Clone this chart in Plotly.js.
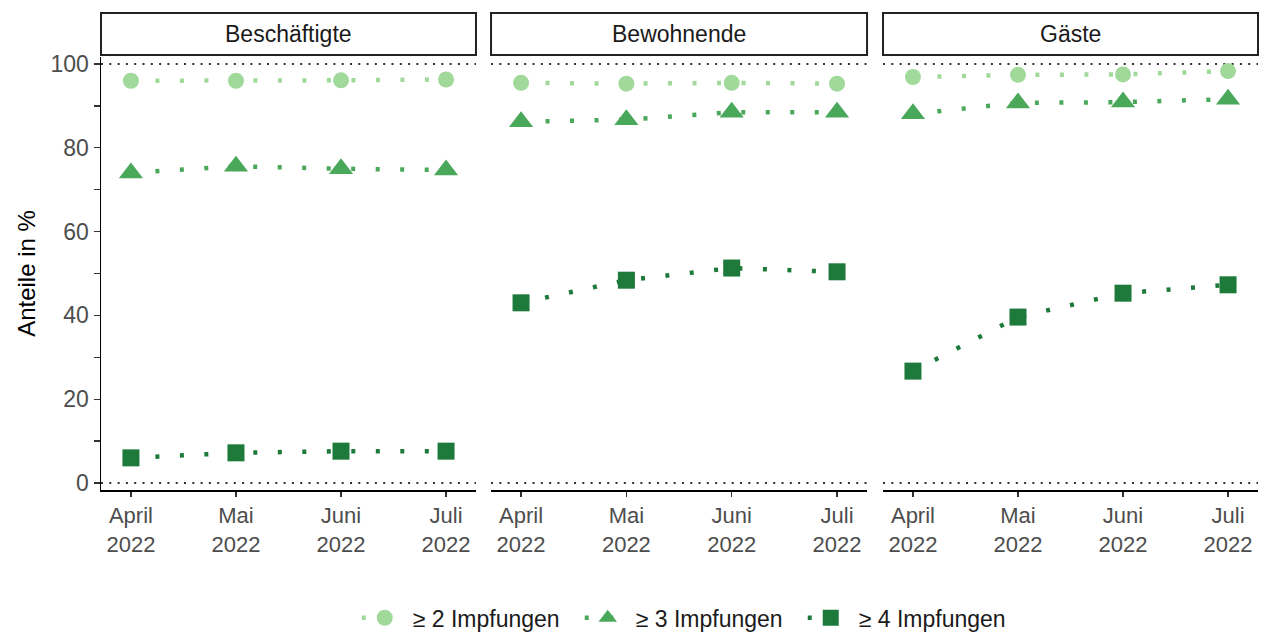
<!DOCTYPE html>
<html>
<head>
<meta charset="utf-8">
<script src="https://cdn.plot.ly/plotly-3.0.1.min.js"></script>
<style>html,body{margin:0;padding:0;background:#fff;}#chart{width:1273px;height:633px;}</style>
</head>
<body>
<div id="chart"></div>
<script>
// ---- data ----
const months = ["April<br>2022", "Mai<br>2022", "Juni<br>2022", "Juli<br>2022"];
const panels = ["Beschäftigte", "Bewohnende", "Gäste"];
const seriesNames = ["≥ 2 Impfungen", "≥ 3 Impfungen", "≥ 4 Impfungen"];

// Beschäftigte
const besch2 = [96.0, 96.0, 96.1, 96.3];
const besch3 = [74.0, 75.6, 75.0, 74.7];
const besch4 = [6.0, 7.2, 7.6, 7.6];
// Bewohnende
const bew2 = [95.5, 95.3, 95.5, 95.3];
const bew3 = [86.2, 86.7, 88.5, 88.5];
const bew4 = [43.0, 48.4, 51.3, 50.4];
// Gäste
const gae2 = [96.9, 97.4, 97.5, 98.3];
const gae3 = [88.1, 90.7, 90.9, 91.6];
const gae4 = [26.7, 39.6, 45.3, 47.3];

const refLines = [0, 100];

// ---- styles ----
const colors = ["#a1d99b", "#4aa85a", "#1d7a3a"];
const symbols = ["circle", "triangle-up", "square"];
const sizes = [16, 21, 17];

const panelData = [
  [besch2, besch3, besch4],
  [bew2, bew3, bew4],
  [gae2, gae3, gae4]
];

const traces = [];
panelData.forEach((pd, p) => {
  pd.forEach((vals, s) => {
    traces.push({
      type: "scatter",
      mode: "lines+markers",
      x: months,
      y: vals,
      xaxis: p === 0 ? "x" : "x" + (p + 1),
      yaxis: p === 0 ? "y" : "y" + (p + 1),
      name: seriesNames[s],
      legendgroup: seriesNames[s],
      showlegend: p === 0,
      line: {color: colors[s], dash: "4px,20.5px", width: 4.5},
      marker: {color: colors[s], symbol: symbols[s], size: sizes[s]}
    });
  });
});

const xDomains = [[0, 0.3241], [0.3371, 0.6621], [0.6759, 1]];
const yDomain = [0, 0.9078];
const font = "Liberation Sans, Arial, sans-serif";
const fs = 23;

const layout = {
  width: 1273, height: 633,
  margin: {l: 101, r: 15, t: 13, b: 143},
  paper_bgcolor: "#fff", plot_bgcolor: "#fff",
  font: {family: font, color: "#4d4d4d", size: fs},
  showlegend: true,
  legend: {
    orientation: "h", xref: "container", yref: "container",
    x: 0.543, xanchor: "center", y: 0.024, yanchor: "middle",
    font: {family: font, size: fs, color: "#1a1a1a"},
    itemwidth: 46, entrywidth: 162, entrywidthmode: "pixels", tracegroupgap: 0
  },
  shapes: [],
  annotations: []
};

for (let p = 0; p < 3; p++) {
  const xs = p === 0 ? "xaxis" : "xaxis" + (p + 1);
  const ys = p === 0 ? "yaxis" : "yaxis" + (p + 1);
  const xr = p === 0 ? "x" : "x" + (p + 1);
  const yr = p === 0 ? "y" : "y" + (p + 1);
  layout[xs] = {
    domain: xDomains[p], anchor: yr,
    type: "category", categoryarray: months, range: [-0.285, 3.285],
    showgrid: false, zeroline: false, automargin: false,
    showline: true, linecolor: "#000", linewidth: 1.5,
    ticks: "outside", ticklen: 5, tickcolor: "#333", tickwidth: 1.3,
    tickfont: {family: font, size: 22, color: "#4d4d4d"},
    fixedrange: true
  };
  layout[ys] = {
    domain: yDomain, anchor: xr,
    range: [-1.67, 101.67],
    showgrid: false, zeroline: false, automargin: false,
    fixedrange: true
  };
  if (p === 0) {
    Object.assign(layout[ys], {
      showline: true, linecolor: "#000", linewidth: 1.5,
      ticks: "outside", ticklen: 6, tickcolor: "#333", tickwidth: 1.3,
      tickvals: [0, 20, 40, 60, 80, 100],
      tickfont: {family: font, size: fs, color: "#4d4d4d"},
      minor: {tickvals: [10, 30, 50, 70, 90], ticks: "outside", ticklen: 6, tickcolor: "#333", tickwidth: 1.3},
      title: {text: "Anteile in %", font: {family: font, size: 24, color: "#000"}, standoff: 8}
    });
  } else {
    Object.assign(layout[ys], {matches: "y", showticklabels: false, showline: false, ticks: ""});
  }
  // reference lines
  refLines.forEach(v => {
    layout.shapes.push({
      type: "line", xref: xr + " domain", yref: yr,
      x0: 0, x1: 1, y0: v, y1: v,
      line: {color: "#333", width: 2, dash: "2px,6.3px"}, layer: "below"
    });
  });
  // strip box
  layout.shapes.push({
    type: "rect", xref: "paper", yref: "paper",
    x0: xDomains[p][0], x1: xDomains[p][1], y0: 0.912, y1: 1.0,
    line: {color: "#222", width: 2}, fillcolor: "#fff"
  });
  layout.annotations.push({
    xref: "paper", yref: "paper",
    x: (xDomains[p][0] + xDomains[p][1]) / 2, y: 0.956,
    xanchor: "center", yanchor: "middle", showarrow: false,
    text: panels[p], font: {family: font, size: fs, color: "#1a1a1a"}
  });
}

Plotly.newPlot("chart", traces, layout, {displayModeBar: false, staticPlot: true});
</script>
</body>
</html>
